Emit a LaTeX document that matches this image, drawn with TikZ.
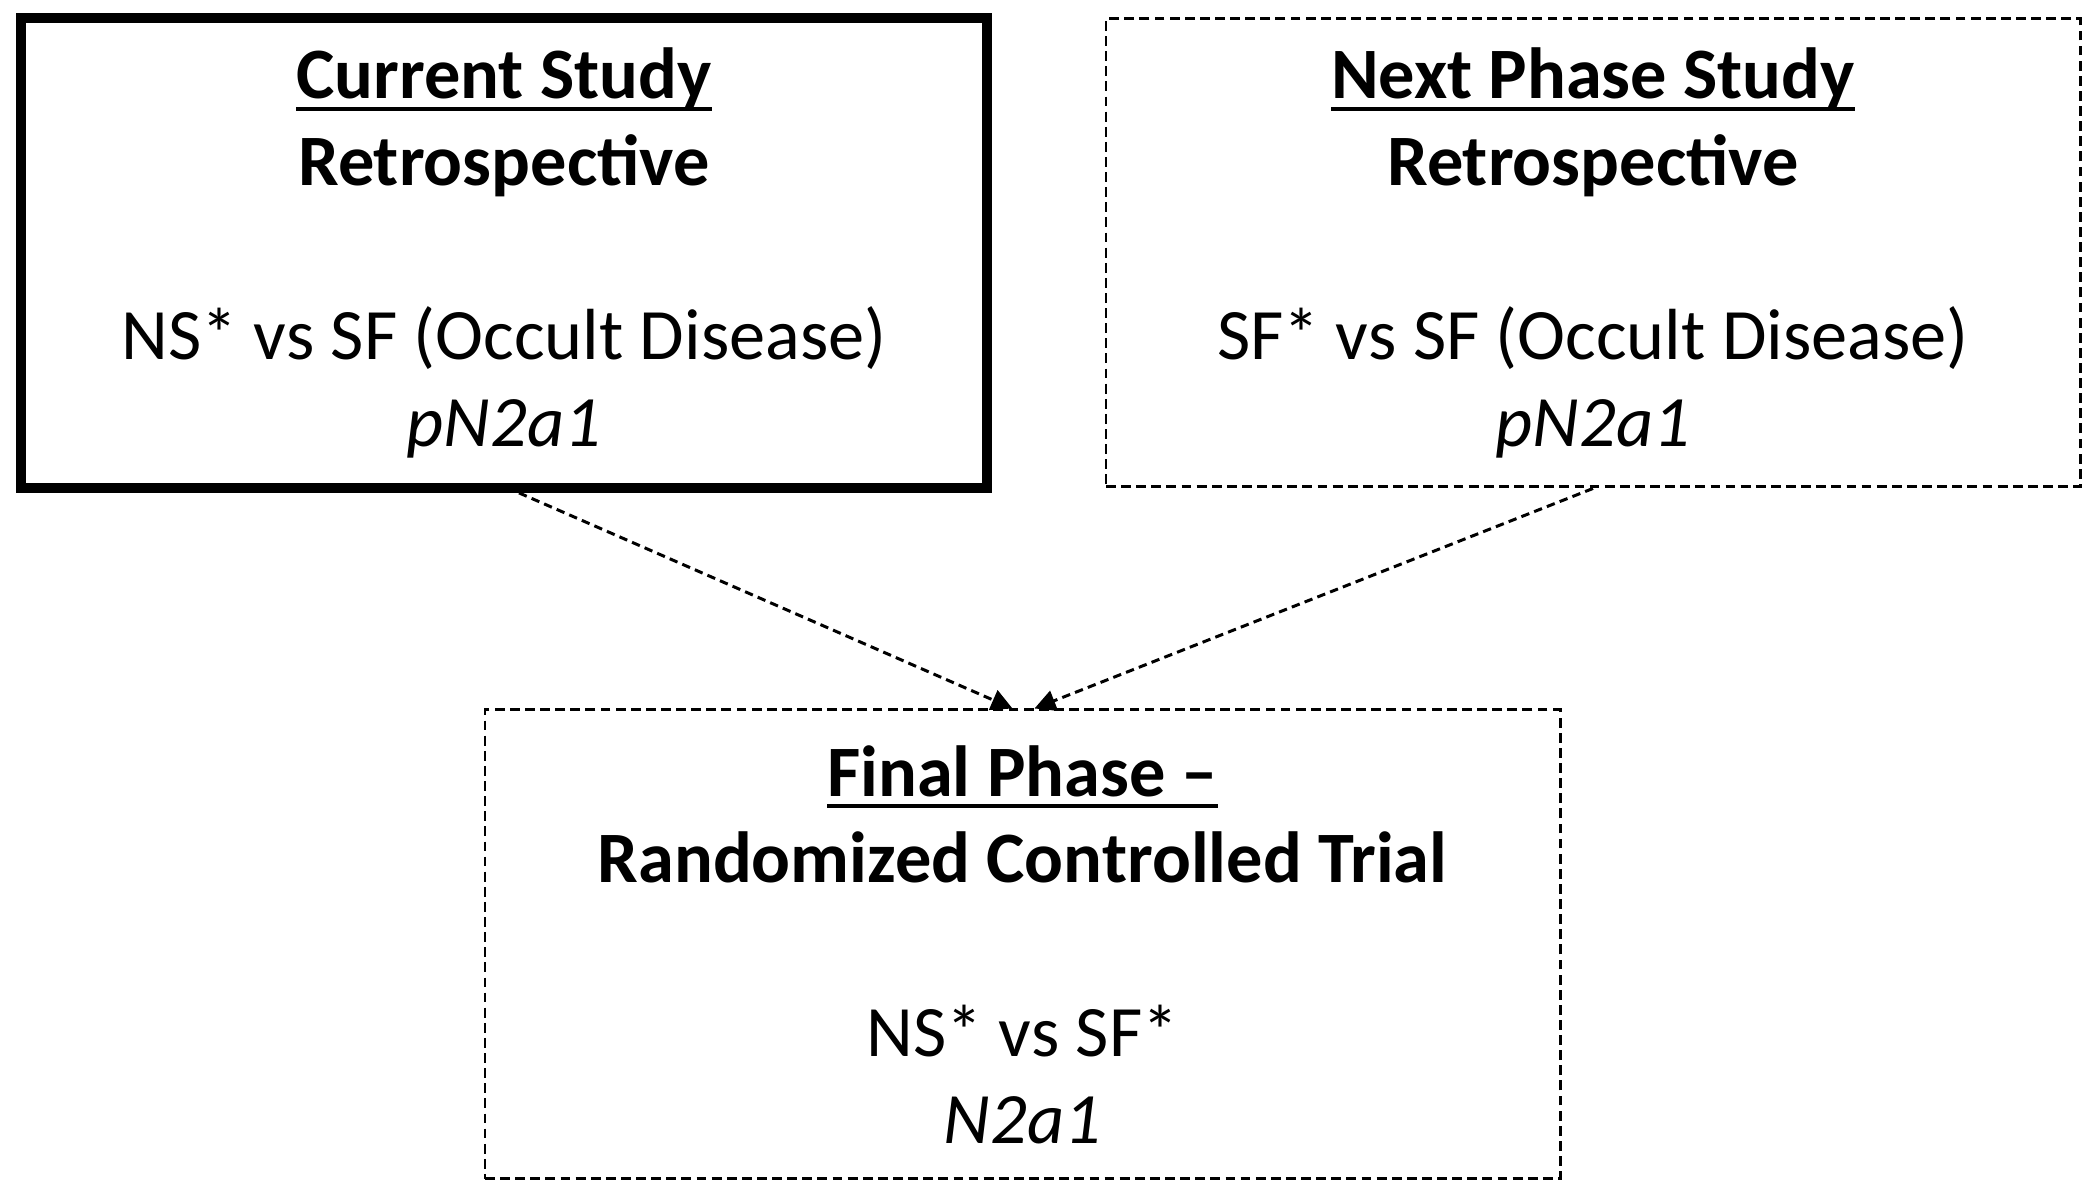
\documentclass[tikz,border=0pt]{standalone}
\usepackage{fontspec}
\setmainfont{Carlito}
\usetikzlibrary{arrows.meta}
\newcommand{\headline}[1]{\setbox0\hbox{#1}\rlap{\rule[-3.4pt]{\wd0}{1.2pt}}\box0}

\begin{document}
\begin{tikzpicture}[
  box/.style={minimum width=#1, align=center, inner sep=0pt,
    font=\fontsize{20.6}{24.7}\selectfont},
  studybox/.style={box=9.7cm, minimum height=4.7cm},
  dbox/.style={draw, line width=0.85pt, dash pattern=on 2.8pt off 1.5pt},
  link/.style={line width=0.85pt, dash pattern=on 2.4pt off 1.5pt,
    -{Triangle[width=6pt,length=6pt]}}
]
\useasboundingbox (0,0) rectangle (21,11.96);
\node [studybox, draw, line width=2.8pt, minimum width=9.66cm] (current) at (5.04,9.43) {
\textbf{\headline{Current Study}}\\
\textbf{Retrospective}\\[24.7pt]
NS* vs SF (Occult Disease)\\
\textit{pN2a1}
};
\node [studybox, dbox, minimum width=9.74cm, minimum height=4.68cm] (next) at (15.93,9.43) {
\textbf{\headline{Next Phase Study}}\\
\textbf{Retrospective}\\[24.7pt]
SF* vs SF (Occult Disease)\\
\textit{pN2a1}
};
\node [box=10.75cm, dbox, minimum height=4.69cm] (final) at (10.225,2.515) {
\textbf{\headline{Final Phase –}}\\
\textbf{Randomized Controlled Trial}\\[24.7pt]
NS* vs SF*\\
\textit{N2a1}
};
\draw [link] ([xshift=0.15cm]current.south) -- ([xshift=-0.1cm]final.north);
\draw [link] (next.south) -- ([xshift=0.12cm]final.north);
\end{tikzpicture}
\end{document}
